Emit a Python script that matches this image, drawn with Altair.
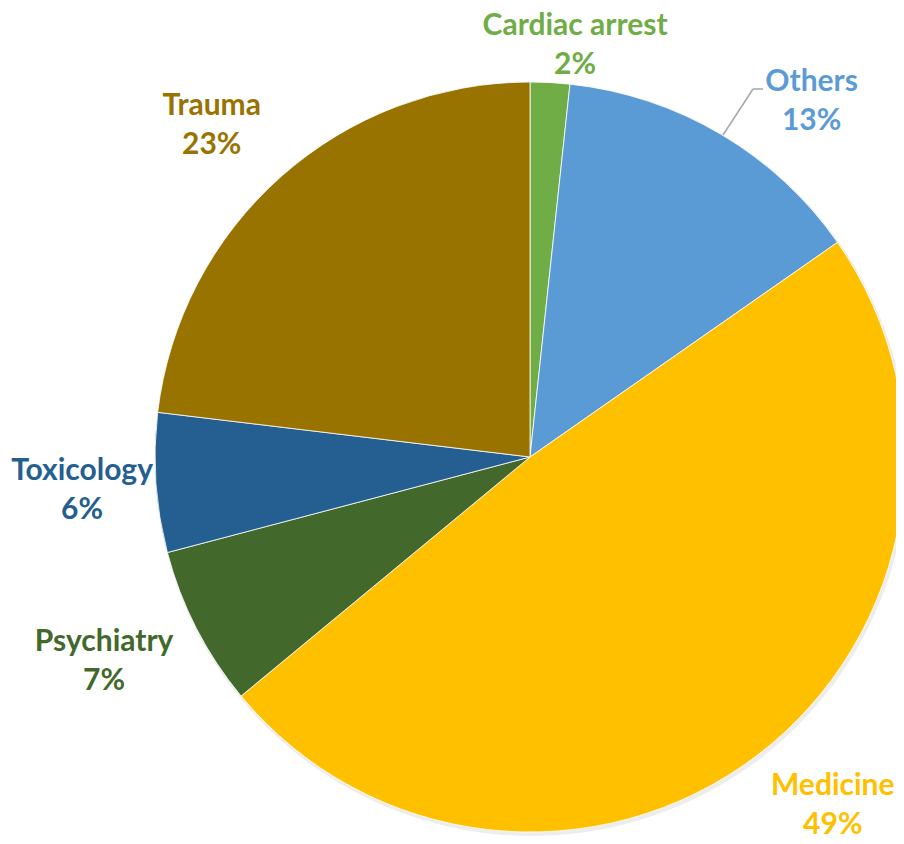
import altair as alt
import pandas as pd

# ---- data ----
categories = ["Cardiac arrest", "Others", "Medicine", "Psychiatry", "Toxicology", "Trauma"]
shares = [1.7, 13.6, 48.7, 6.9, 6.0, 23.1]
pct_labels = ["2%", "13%", "49%", "7%", "6%", "23%"]
colors = ["#70AD47", "#5B9BD5", "#FFC000", "#43682B", "#255E91", "#997300"]

df = pd.DataFrame({
    "category": categories,
    "share": shares,
    "pct": pct_labels,
    "idx": list(range(len(categories))),
})
df["label"] = df["category"] + "\n" + df["pct"]

# ---- layout ----
W, H = 888, 828
CX, CY, R = 522, 449, 375
TAU = 6.283185307179586
FONT = "Lato"

theta_scale = alt.Scale(domain=[0, 100], range=[0, TAU])
color_scale = alt.Scale(domain=categories, range=colors)

# label placement: radius from centre, plus small nudges (pixels)
label_layout = {
    "Cardiac arrest": (414, 23, -18),
    "Others": (455, 50, 17),
    "Medicine": (472, 17, -47),
    "Psychiatry": (472, -6, -31),
    "Toxicology": (449, 0, -17),
    "Trauma": (460, -13, -7),
}

base = alt.Chart(df)

shadow = alt.Chart(pd.DataFrame({"k": [0]})).mark_arc(
    theta=0, theta2=TAU, radius=R + 1.5, color="#000000", opacity=0.07
).encode(x=alt.value(CX + 1.5), y=alt.value(CY + 2.5))

pie = base.mark_arc(outerRadius=R, stroke="white", strokeWidth=0.8).encode(
    theta=alt.Theta("share:Q", stack=True, scale=theta_scale),
    color=alt.Color("category:N", scale=color_scale, legend=None),
    order=alt.Order("idx:Q"),
    x=alt.value(CX),
    y=alt.value(CY),
)

text_layers = []
for cat in categories:
    rad, dx, dy = label_layout[cat]
    t = base.transform_window(
        cum="sum(share)", sort=[alt.SortField("idx")]
    ).transform_calculate(
        mid="datum.cum - datum.share / 2"
    ).transform_filter(
        alt.datum.category == cat
    ).mark_text(
        font=FONT, fontSize=30, fontWeight="bold", lineBreak="\n",
        lineHeight=39, align="center", baseline="middle", dx=dx, dy=dy,
        radius=rad,
    ).encode(
        theta=alt.Theta("mid:Q", stack=None, scale=theta_scale),
        text="label:N",
        color=alt.Color("category:N", scale=color_scale, legend=None),
        x=alt.value(CX),
        y=alt.value(CY),
    )
    text_layers.append(t)

one = alt.Chart(pd.DataFrame({"k": [0]}))
leader1 = one.mark_rule(color="#A6A6A6", strokeWidth=1.5).encode(
    x=alt.value(715), y=alt.value(127), x2=alt.value(745), y2=alt.value(81)
)
leader2 = one.mark_rule(color="#A6A6A6", strokeWidth=1.5).encode(
    x=alt.value(745), y=alt.value(81), x2=alt.value(755), y2=alt.value(81)
)

chart = alt.layer(shadow, pie, leader1, leader2, *text_layers).properties(
    width=W, height=H, autosize=alt.AutoSizeParams(type="none"), padding=0
).configure_view(stroke=None)

chart.save("out.html", embed_options={"renderer": "svg", "actions": False})
